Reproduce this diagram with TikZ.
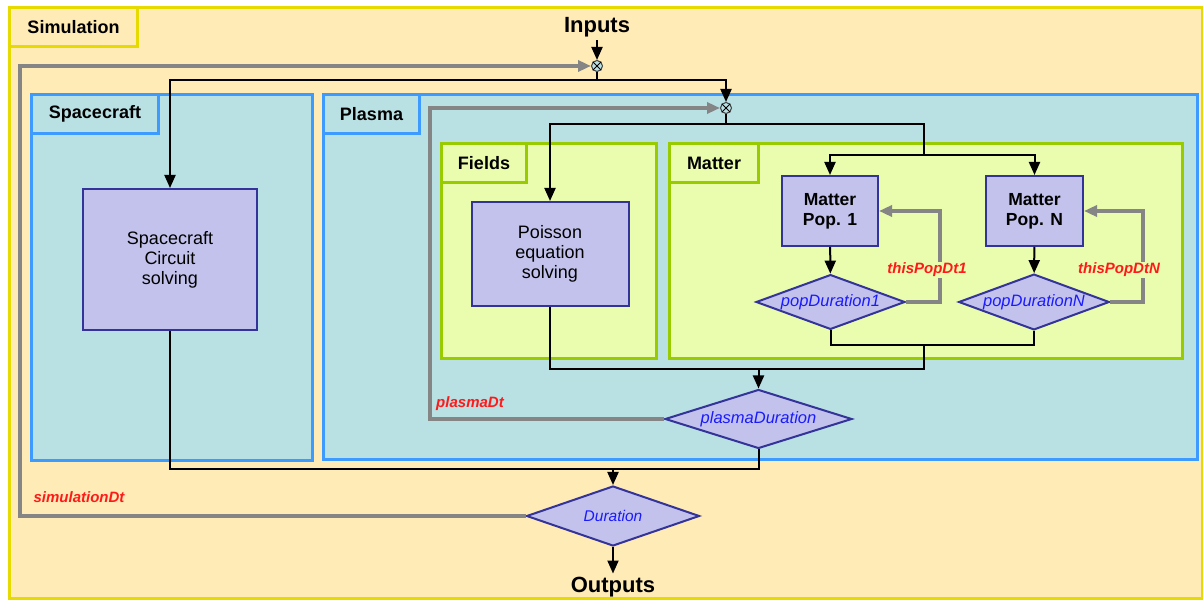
\documentclass[tikz,border=0pt]{standalone}
\usepackage{fontspec}
\setmainfont{Liberation Sans}
\usepackage{xcolor}
\usepackage{tikz}
\usetikzlibrary{shapes.geometric,arrows.meta,positioning}

\definecolor{simfill}{HTML}{FFEBB5}
\definecolor{simline}{HTML}{E6DA00}
\definecolor{panelfill}{HTML}{B9E0E3}
\definecolor{panelline}{HTML}{3D9BFF}
\definecolor{subfill}{HTML}{EAFCAE}
\definecolor{subline}{HTML}{99CC00}
\definecolor{procfill}{HTML}{C2C2EC}
\definecolor{procline}{HTML}{333399}
\definecolor{fbgray}{HTML}{858585}
\definecolor{dtred}{HTML}{FF1A1A}
\definecolor{durblue}{HTML}{1A1AFF}

\begin{document}
\begin{tikzpicture}[
    x=1pt, y=-1pt,
    frame/.style={draw=#1, line width=3pt, anchor=north west, inner sep=0pt},
    tag/.style={draw=#1, line width=3pt, anchor=north west, inner sep=0pt,
                minimum height=39pt, font=\fontsize{18}{21}\selectfont\bfseries},
    process/.style={draw=procline, fill=procfill, line width=2pt,
                    align=center, font=\fontsize{18}{20}\selectfont},
    decision/.style={diamond, draw=procline, fill=procfill, line width=2pt,
                     inner sep=1pt, text=durblue,
                     font=\fontsize{16.5}{19}\selectfont\itshape},
    junction/.style={circle, draw=black!75, fill=panelfill, line width=1pt,
                     minimum size=11pt, inner sep=0pt},
    link/.style={line width=2pt},
    flow/.style={-{Triangle[length=13pt,width=11pt]}, line width=2pt},
    feedback/.style={-{Triangle[length=13pt,width=11pt]}, draw=fbgray, line width=3.5pt},
    dtlabel/.style={text=dtred, font=\fontsize{15}{18}\selectfont\bfseries\itshape}
]
\useasboundingbox (0,0) rectangle (1203,601);

% Containers
\node[frame=simline, fill=simfill, minimum width=1193pt, minimum height=591pt] (simulation) at (8,6) {};
\node[tag=simline, fill=simfill, minimum width=128pt] (simtag) at (8,6) {Simulation};

\node[frame=panelline, fill=panelfill, minimum width=281pt, minimum height=366pt] (scpanel) at (30,93) {};
\node[tag=panelline, minimum width=127pt] (sctag) at (30,93) {Spacecraft};

\node[frame=panelline, fill=panelfill, minimum width=874pt, minimum height=365pt] (plasmapanel) at (322,93) {};
\node[tag=panelline, minimum width=96pt] (plasmatag) at (322,93) {Plasma};

\node[frame=subline, fill=subfill, minimum width=215pt, minimum height=215pt] (fieldspanel) at (440,142) {};
\node[tag=subline, minimum width=85pt] (fieldstag) at (440,142) {Fields};

\node[frame=subline, fill=subfill, minimum width=513pt, minimum height=215pt] (matterpanel) at (668,142) {};
\node[tag=subline, minimum width=89pt] (mattertag) at (668,142) {Matter};

% Inputs and outputs
\node[font=\fontsize{22}{26}\selectfont\bfseries] (inputs) at (597,27) {Inputs};
\node[font=\fontsize{22}{26}\selectfont\bfseries] (outputs) at (613,587) {Outputs};

\node[junction] (j1) at (597,66) {};
\node[junction] (j2) at (726,108) {};
\draw[line width=1pt] (j1.north west) -- (j1.south east) (j1.north east) -- (j1.south west);
\draw[line width=1pt] (j2.north west) -- (j2.south east) (j2.north east) -- (j2.south west);

% Solvers
\node[process, minimum width=174pt, minimum height=141pt] (spacecraft) at (170,259.5) {Spacecraft\\Circuit\\solving};
\node[process, minimum width=157pt, minimum height=104pt] (poisson) at (550,254) {Poisson\\equation\\solving};
\node[process, font=\fontsize{17.5}{20}\selectfont\bfseries, minimum width=96pt, minimum height=70pt] (pop1) at (830,211) {Matter\\Pop. 1};
\node[process, font=\fontsize{17.5}{20}\selectfont\bfseries, minimum width=97pt, minimum height=70pt] (popN) at (1034.5,211) {Matter\\Pop. N};

% Duration checks
\node[decision, aspect=2.7, minimum width=149pt, minimum height=54pt] (dur1) at (830.5,302) {popDuration1};
\node[decision, aspect=2.7, minimum width=148pt, minimum height=54pt] (durN) at (1034,302) {popDurationN};
\node[decision, aspect=3.2, minimum width=187pt, minimum height=59pt] (pdur) at (758.5,419) {plasmaDuration};
\node[decision, aspect=2.9, minimum width=173pt, minimum height=60pt,
      font=\fontsize{15.5}{18}\selectfont\itshape] (duration) at (613,516) {Duration};

% Corner points
\coordinate (split1) at (597,80);
\coordinate (split2) at (726,124);
\coordinate (split3) at (924,155);
\coordinate (join1) at (924,345);
\coordinate (join2) at (924,369);
\coordinate (split4) at (758.5,369);
\coordinate (join3) at (758.5,469);
\coordinate (split5) at (613,469);
\coordinate (loop1) at (940,211);
\coordinate (loopN) at (1143,211);
\coordinate (plasmaloop) at (430,419);
\coordinate (simloop) at (20,516);

% Forward flows
\draw[flow] (inputs) -- (j1);
\draw[link] (j1) -- (split1);
\draw[flow] (split1) -| (spacecraft);
\draw[flow] (split1) -| (j2);
\draw[link] (j2) -- (split2);
\draw[flow] (split2) -| (poisson);
\draw[link] (split2) -| (split3);
\draw[flow] (split3) -| (pop1);
\draw[flow] (split3) -| (popN);
\draw[flow] (pop1) -- (dur1);
\draw[flow] (popN) -- (durN);
\draw[link] (dur1) |- (join1) -| (durN);
\draw[link] (poisson) |- (join2) -- (join1);
\draw[flow] (split4) -- (pdur);
\draw[link] (spacecraft) |- (join3) -- (pdur);
\draw[flow] (split5) -- (duration);
\draw[flow] (duration) -- (outputs);

% Feedback loops
\draw[feedback] (dur1) -| (loop1) -- (pop1);
\draw[feedback] (durN) -| (loopN) -- (popN);
\draw[feedback] (pdur) -- (plasmaloop) |- (j2);
\draw[feedback] (duration) -- (simloop) |- (j1);

\node[dtlabel, fill=subfill, inner sep=1pt] (dt1) at (927,270) {thisPopDt1};
\node[dtlabel, fill=subfill, inner sep=1pt] (dtN) at (1119,270) {thisPopDtN};
\node[dtlabel] (plasmadt) at (470,404) {plasmaDt};
\node[dtlabel] (simdt) at (79,497) {simulationDt};

\end{tikzpicture}
\end{document}
